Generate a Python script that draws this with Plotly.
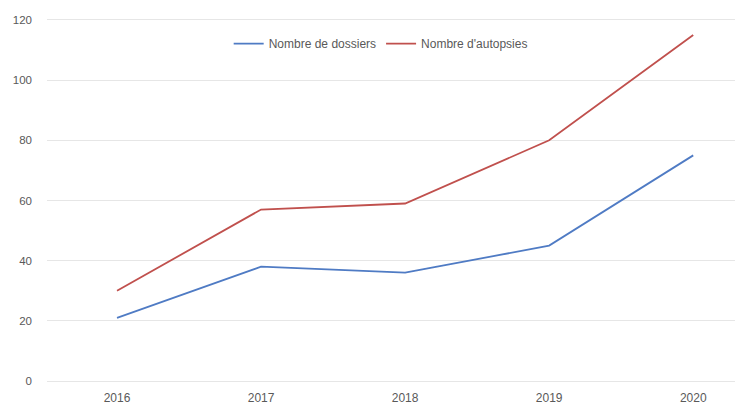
import plotly.graph_objects as go

years = ["2016", "2017", "2018", "2019", "2020"]
dossiers = [21, 38, 36, 45, 75]
autopsies = [30, 57, 59, 80, 115]
y_ticks = [0, 20, 40, 60, 80, 100, 120]

fig = go.Figure()
fig.add_trace(go.Scatter(
    x=years, y=dossiers, mode="lines", name="Nombre de dossiers",
    line=dict(color="#4F7BC4", width=1.8),
))
fig.add_trace(go.Scatter(
    x=years, y=autopsies, mode="lines", name="Nombre d'autopsies",
    line=dict(color="#C0504D", width=1.8),
))

fig.update_layout(
    width=735, height=408,
    margin=dict(l=47, r=0, t=18, b=25),
    paper_bgcolor="white", plot_bgcolor="white",
    font=dict(family="Liberation Sans, Arial, sans-serif", size=12, color="#595959"),
    showlegend=True,
    legend=dict(
        orientation="h", x=0.485, xanchor="center", y=0.93, yanchor="middle",
        font=dict(size=12, color="#595959"), itemwidth=30,
        bgcolor="rgba(0,0,0,0)",
    ),
    xaxis=dict(
        type="category", range=[-0.486, 4.29],
        showgrid=False, zeroline=False, showline=False,
        ticks="", ticklabelstandoff=6, tickfont=dict(size=12, color="#595959"),
    ),
    yaxis=dict(
        range=[-0.66, 120.66], tickvals=y_ticks,
        showgrid=True, gridcolor="#e6e6e6", gridwidth=1.2,
        zeroline=False, showline=False, ticks="",
        ticklabelstandoff=14, tickfont=dict(size=11.5, color="#595959"),
    ),
)

fig.write_html("out.html")
